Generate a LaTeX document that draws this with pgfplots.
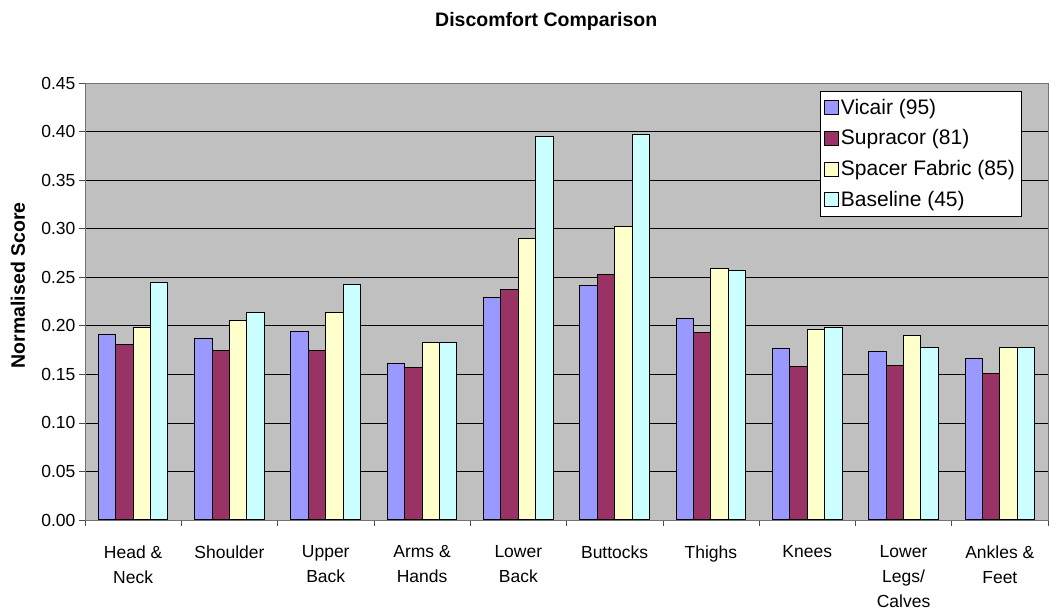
\documentclass[border=0pt]{standalone}
\usepackage{pgfplots}
\usepackage{pgfplotstable}
\pgfplotsset{compat=1.18}
\usepackage{fontspec}
\setmainfont{Liberation Sans}

\definecolor{vicair}{HTML}{9999FF}
\definecolor{supracor}{HTML}{993366}
\definecolor{spacer}{HTML}{FFFFCC}
\definecolor{baseline}{HTML}{CCFFFF}
\definecolor{plotbg}{HTML}{C0C0C0}

% normalised discomfort scores, one row per body region
\pgfplotstableread{
x vic sup spa bas
0 0.191 0.181 0.198 0.245
1 0.187 0.175 0.205 0.214
2 0.194 0.175 0.214 0.243
3 0.161 0.157 0.183 0.183
4 0.229 0.237 0.290 0.395
5 0.241 0.253 0.302 0.397
6 0.207 0.193 0.259 0.257
7 0.177 0.158 0.196 0.198
8 0.173 0.159 0.190 0.178
9 0.166 0.151 0.178 0.178
}\scores

\pgfplotsset{
  sq/.style={draw=black, line width=1pt, fill=#1,
    legend image code/.code={\draw[fill=#1,draw=black,line width=0.6pt] (-3pt,-7pt) rectangle (11pt,7pt);}},
}

\begin{document}
\begin{tikzpicture}
\useasboundingbox (-85pt,-92pt) rectangle (965pt,520pt);
\begin{axis}[
  at={(0,0)}, anchor=south west,
  scale only axis, width=963pt, height=437pt,
  axis background/.style={fill=plotbg},
  axis line style={black!55},
  ybar=0pt, bar width=17.4pt,
  xmin=-0.5, xmax=9.5,
  ymin=0, ymax=0.45,
  ytick={0,0.05,0.10,0.15,0.20,0.25,0.30,0.35,0.40,0.45},
  ymajorgrids, grid style={black, line width=0.6pt},
  xtick={0,...,9},
  xticklabels={Head \&\\Neck, Shoulder, Upper\\Back, Arms \&\\Hands, Lower\\Back, Buttocks, Thighs, Knees, Lower\\Legs/\\Calves, Ankles \&\\Feet},
  minor xtick={-0.5,0.5,...,9.5},
  major x tick style={draw=none},
  tick align=outside, major tick length=6pt, minor tick length=6pt,
  tick style={black!70, line width=0.6pt},
  xtick pos=bottom, ytick pos=left,
  xticklabel style={align=center, font=\fontsize{17.5}{25}\selectfont, yshift=-16pt},
  yticklabel style={font=\fontsize{17.5}{20}\selectfont},
  /pgf/number format/.cd, fixed, fixed zerofill, precision=2, assume math mode=true,
  /pgfplots/.cd,
  title={Discomfort Comparison},
  title style={font=\bfseries\fontsize{19.5}{22}\selectfont, at={(axis description cs:0.479,1.128)}, anchor=center},
  ylabel={Normalised Score},
  ylabel style={font=\bfseries\fontsize{19.5}{22}\selectfont, at={(axis description cs:-0.0696,0.537)}, anchor=center},
  legend style={at={(0.972,0.982)}, anchor=north east, draw=black, fill=white,
    font=\fontsize{21}{24}\selectfont, inner xsep=4pt, inner ysep=6pt, row sep=10pt},
  legend cell align=left,
]
\addplot[sq=vicair] table[x=x, y=vic] {\scores};
\addplot[sq=supracor] table[x=x, y=sup] {\scores};
\addplot[sq=spacer] table[x=x, y=spa] {\scores};
\addplot[sq=baseline] table[x=x, y=bas] {\scores};
\legend{Vicair (95), Supracor (81), Spacer Fabric (85), Baseline (45)}
\end{axis}
\end{tikzpicture}
\end{document}
